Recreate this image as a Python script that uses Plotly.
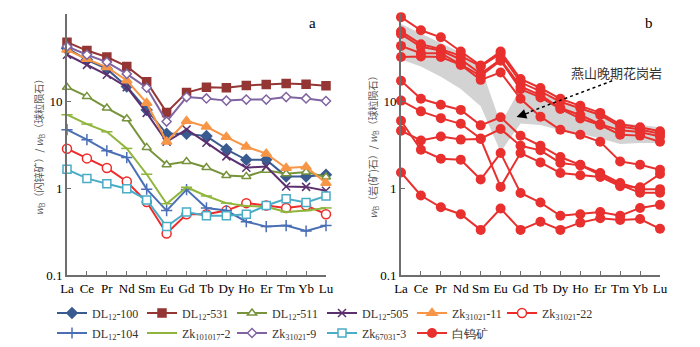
import plotly.graph_objects as go

ree = ["La", "Ce", "Pr", "Nd", "Sm", "Eu", "Gd", "Tb", "Dy", "Ho", "Er", "Tm", "Yb", "Lu"]

# Panel a: sphalerite chondrite-normalised REE
dl12_100 = [40.5, 29.7, 23.4, 14.7, 7.9, 4.2, 4.2, 3.95, 2.78, 2.11, 2.11, 1.36, 1.36, 1.42]
dl12_531 = [47.5, 38, 32, 25, 16.6, 7.4, 12.5, 14.4, 14.2, 15.1, 15.5, 15.9, 15.6, 15.0]
dl12_511 = [14.4, 11.3, 8.3, 6.25, 2.93, 1.85, 2.02, 1.72, 1.39, 1.36, 1.60, 1.46, 1.53, 1.34]
dl12_505 = [34, 26, 20, 14.4, 7.3, 3.4, 4.7, 3.32, 2.31, 1.71, 1.77, 1.04, 1.03, 0.93]
zk31021_11 = [38.7, 30.3, 24.5, 17.2, 9.5, 3.4, 5.9, 5.06, 3.85, 2.98, 2.48, 1.70, 1.75, 1.14]
zk31021_22 = [2.83, 2.19, 1.70, 1.19, 0.69, 0.30, 0.50, 0.50, 0.55, 0.67, 0.63, 0.59, 0.63, 0.50]
dl12_104 = [4.68, 3.59, 2.68, 2.24, 0.97, 0.55, 0.96, 0.59, 0.55, 0.41, 0.36, 0.37, 0.32, 0.37]
zk101017_2 = [6.95, 5.43, 4.43, 2.85, 1.44, 0.66, 1.02, 0.81, 0.67, 0.62, 0.61, 0.53, 0.55, 0.59]
zk31021_9 = [42.3, 34, 28, 20.5, 14.2, 5.8, 11.1, 10.7, 10.1, 10.4, 10.4, 11.1, 10.7, 10.0]
zk67031_3 = [1.64, 1.29, 1.12, 0.98, 0.73, 0.36, 0.53, 0.48, 0.48, 0.50, 0.63, 0.75, 0.68, 0.81]

# Panel b: scheelite samples
scheelite_1 = [92, 65, 54, 37, 25.6, 37, 17.9, 14.1, 10.6, 8.8, 7.3, 5.4, 5.0, 4.5]
scheelite_2 = [63, 45, 39.5, 33, 25, 35, 16.4, 12.9, 9.8, 8.3, 6.9, 5.1, 4.7, 4.2]
scheelite_3 = [59, 42, 38, 30, 20.5, 30, 14.7, 11.7, 8.3, 6.9, 5.4, 4.6, 4.4, 3.9]
scheelite_4 = [43, 35.5, 35.5, 26.5, 19.5, 29, 13.7, 11.0, 8.1, 6.3, 5.3, 4.1, 4.0, 3.4]
scheelite_5 = [32, 32.5, 32, 26, 17.5, 21.3, 10.6, 6.6, 4.67, 4.1, 3.4, 2.02, 1.85, 1.62]
scheelite_6 = [17.1, 10.6, 9.05, 7.9, 5.25, 6.5, 3.98, 3.06, 2.27, 1.85, 1.49, 1.14, 0.97, 0.97]
scheelite_7 = [10.1, 7.6, 6.35, 5.47, 3.7, 4.76, 3.06, 2.71, 1.94, 1.82, 1.42, 1.09, 0.88, 0.88]
scheelite_8 = [5.93, 2.75, 2.17, 2.11, 1.25, 2.52, 0.876, 0.68, 0.48, 0.50, 0.53, 0.48, 0.59, 0.64]
scheelite_9 = [4.55, 3.52, 3.9, 3.6, 3.65, 1.03, 2.52, 1.97, 1.49, 1.40, 1.34, 1.05, 1.02, 1.45]
scheelite_10 = [1.51, 0.82, 0.60, 0.50, 0.33, 0.58, 0.33, 0.41, 0.33, 0.40, 0.45, 0.43, 0.44, 0.34]
scheelite = [scheelite_1, scheelite_2, scheelite_3, scheelite_4, scheelite_5,
             scheelite_6, scheelite_7, scheelite_8, scheelite_9, scheelite_10]

# Late Yanshanian granite field (grey band)
granite_low = [30, 25, 19, 13.7, 8.7, 2.6, 5.5, 5.3, 4.6, 4.2, 3.7, 3.2, 3.3, 3.3]
granite_high = [77, 60, 46, 36, 25, 5.5, 14, 12, 10, 8.5, 7, 5.6, 5.3, 5.0]

SERIF = "Liberation Serif"
CJK = "Noto Sans CJK SC"
OFF = 8  # page body margin of the browser
W, H = 700 - OFF, 347 - OFF
ML, MR, MT, MB = 12, 12, 4, 4
PW, PH = W - ML - MR, H - MT - MB


def fx(px):  # px measured on the 700x347 screenshot
    return (px - OFF - ML) / PW


def fy(py):
    return (H - MB - (py - OFF)) / PH


fig = go.Figure()


def add_a(name, vals, color, symbol, size, legend, filled=True):
    fig.add_trace(go.Scatter(
        x=ree, y=vals, name=name, mode="lines+markers", xaxis="x", yaxis="y",
        line=dict(color=color, width=2),
        marker=dict(symbol=symbol, size=size, color=color if filled else "white",
                    line=dict(color=color, width=1.5)),
        legend=legend, cliponaxis=False))


add_a("DL<sub>12</sub>-100", dl12_100, "#3a5b8f", "diamond", 8, "legend")
add_a("DL<sub>12</sub>-531", dl12_531, "#943634", "square", 8, "legend")
add_a("DL<sub>12</sub>-511", dl12_511, "#77933c", "triangle-up", 8, "legend", filled=False)
add_a("DL<sub>12</sub>-505", dl12_505, "#5c2f6e", "x-thin", 8, "legend")
add_a("Zk<sub>31021</sub>-11", zk31021_11, "#f79646", "triangle-up", 9, "legend")
add_a("Zk<sub>31021</sub>-22", zk31021_22, "#ee2a2a", "circle", 9, "legend", filled=False)
add_a("DL<sub>12</sub>-104", dl12_104, "#4a6fb5", "cross-thin", 8, "legend2")
add_a("Zk<sub>101017</sub>-2", zk101017_2, "#8fb53c", "line-ew", 8, "legend2")
add_a("Zk<sub>31021</sub>-9", zk31021_9, "#8064a2", "diamond", 7, "legend2", filled=False)
add_a("Zk<sub>67031</sub>-3", zk67031_3, "#4bacc6", "square", 8, "legend2", filled=False)

# granite band
fig.add_trace(go.Scatter(x=ree, y=granite_low, xaxis="x2", yaxis="y2", mode="lines",
                         line=dict(width=0, color="#d3d3d3"), showlegend=False, hoverinfo="skip"))
fig.add_trace(go.Scatter(x=ree, y=granite_high, xaxis="x2", yaxis="y2", mode="lines",
                         line=dict(width=0, color="#d3d3d3"), fill="tonexty",
                         fillcolor="#d3d3d3", showlegend=False, hoverinfo="skip"))

for i, vals in enumerate(scheelite):
    fig.add_trace(go.Scatter(
        x=ree, y=vals, name="白钨矿", mode="lines+markers", xaxis="x2", yaxis="y2",
        line=dict(color="#e8302e", width=2),
        marker=dict(symbol="circle", size=10, color="#e8302e"),
        legendgroup="scheelite", showlegend=(i == 0), legend="legend2", cliponaxis=False))

axcolor = "#6e6e6e"
xcommon = dict(type="category", range=[0, 13], showline=True, linecolor=axcolor, linewidth=2,
               ticks="inside", ticklen=4, tickcolor=axcolor, tickwidth=1, automargin=False,
               tickfont=dict(family=SERIF, size=13, color="black"), showgrid=False, zeroline=False)
ycommon = dict(type="log", range=[-1, 2], showline=True, linecolor=axcolor, linewidth=2,
               ticks="inside", ticklen=4, tickcolor=axcolor, tickwidth=1, automargin=False,
               tickvals=[0.1, 1, 10, 100], ticktext=["0.1", "1", "10", "100"],
               tickfont=dict(family=SERIF, size=13, color="black"), showgrid=False, zeroline=False,
               domain=[fy(275), fy(14)])

legend_common = dict(orientation="h", xanchor="left", yanchor="middle", traceorder="normal",
                     font=dict(family=SERIF, size=12, color="#333"), entrywidth=45,
                     entrywidthmode="pixels", itemwidth=30, bgcolor="rgba(0,0,0,0)",
                     tracegroupgap=0)

fig.update_layout(
    width=W, height=H, margin=dict(l=ML, r=MR, t=MT, b=MB, autoexpand=False),
    paper_bgcolor="white", plot_bgcolor="white",
    xaxis=dict(xcommon, domain=[fx(67), fx(326)], anchor="y"),
    yaxis=dict(ycommon, anchor="x",
               title=dict(text="<i>w</i><sub>B</sub>（闪锌矿）/ <i>w</i><sub>B</sub>（球粒陨石）",
                          font=dict(family=CJK, size=10, color="#555"), standoff=1)),
    xaxis2=dict(xcommon, domain=[fx(401), fx(660)], anchor="y2"),
    yaxis2=dict(ycommon, anchor="x2",
                title=dict(text="<i>w</i><sub>B</sub>（岩(矿)石）/ <i>w</i><sub>B</sub>（球粒陨石）",
                           font=dict(family=CJK, size=10, color="#555"), standoff=1)),
    legend=dict(legend_common, x=fx(52), y=fy(313)),
    legend2=dict(legend_common, x=fx(52), y=fy(333)),
    showlegend=True,
)

fig.add_annotation(text="a", x=12.3, y=1.9, xref="x", yref="y", showarrow=False,
                   font=dict(family=SERIF, size=15, color="black"))
fig.add_annotation(text="b", x=12.45, y=1.9, xref="x2", yref="y2", showarrow=False,
                   font=dict(family=SERIF, size=15, color="black"))
fig.add_annotation(text="燕山晚期花岗岩", x=10.84, y=1.33, xref="x2", yref="y2", showarrow=False,
                   font=dict(family=CJK, size=13, color="#333"))
# dotted leader (shape y values in data units) and arrow head
fig.add_shape(type="line", xref="x2", yref="y2", x0=10.6, y0=10 ** 1.232, x1=6.4, y1=10 ** 0.87,
              line=dict(color="black", width=1.5, dash="dot"))
fig.add_annotation(x=5.8, y=0.815, xref="x2", yref="y2", ax=14, ay=-5, showarrow=True,
                   arrowhead=2, arrowsize=1.3, arrowwidth=1.5, arrowcolor="black", text="")

fig.write_html("out.html")
